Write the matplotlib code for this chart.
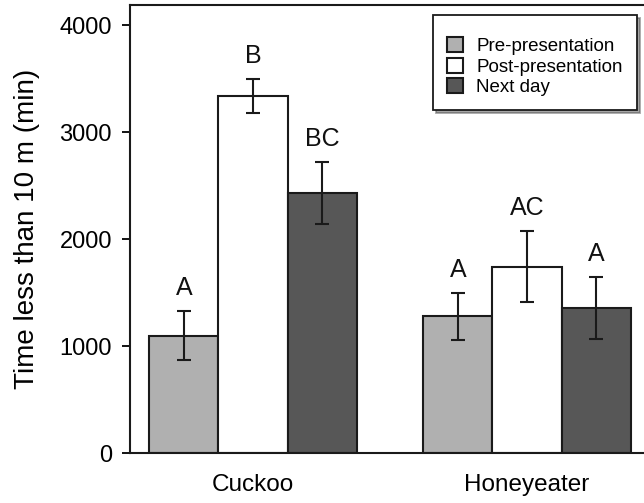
import matplotlib
matplotlib.use("Agg")
import matplotlib.pyplot as plt
import numpy as np

plt.rcParams['font.family'] = ['Liberation Sans', 'DejaVu Sans']

groups = ["Cuckoo", "Honeyeater"]
series = ["Pre-presentation", "Post-presentation", "Next day"]
means = {
    "Pre-presentation": [1100, 1280],
    "Post-presentation": [3340, 1745],
    "Next day": [2430, 1355],
}
errors = {
    "Pre-presentation": [230, 220],
    "Post-presentation": [155, 330],
    "Next day": [290, 290],
}
letters = {
    "Pre-presentation": ["A", "A"],
    "Post-presentation": ["B", "AC"],
    "Next day": ["BC", "A"],
}
colors = {"Pre-presentation": "#b0b0b0", "Post-presentation": "#ffffff", "Next day": "#575757"}
yticks = [0, 1000, 2000, 3000, 4000]

fig = plt.figure(figsize=(6.44, 5.03), dpi=100)
ax = fig.add_axes([130/644, 49.7/503, 1 - 130/644, (453.3 - 5)/503])

x = np.arange(len(groups))
w = 0.252
for i, s in enumerate(series):
    xs = x + (i - 1) * w
    ax.bar(xs, means[s], w, color=colors[s], edgecolor="#1a1a1a", linewidth=1.5,
           label=s, zorder=2)
    ax.errorbar(xs, means[s], yerr=errors[s], fmt="none", ecolor="#1a1a1a",
                elinewidth=1.5, capsize=5, capthick=1.5, zorder=3)
    for xi, m, e, t in zip(xs, means[s], errors[s], letters[s]):
        ax.annotate(t, (xi, m + e), xytext=(0, 16.5), textcoords="offset points",
                    ha="center", va="center", fontsize=18, color="#111111")

ax.set_xlim(-0.449, (644 - 253) / 274)
ax.set_ylim(0, 4190)
ax.set_yticks(yticks)
ax.set_yticklabels([str(v) for v in yticks], fontsize=17)
ax.set_xticks(x)
ax.set_xticklabels(groups, fontsize=17.5)
ax.tick_params(axis="x", length=0, pad=15)
ax.tick_params(axis="y", length=6, width=1.3, pad=7, direction="out")
ax.set_ylabel("Time less than 10 m (min)", fontsize=20, labelpad=14)
for sp in ["left", "bottom", "top"]:
    ax.spines[sp].set_linewidth(1.5)
    ax.spines[sp].set_color("#1a1a1a")
ax.spines["right"].set_visible(False)

leg = ax.legend(loc="upper right", bbox_to_anchor=((637 - 130) / 514, (453.3 - 15) / 448.3),
                fontsize=13.5, handlelength=0.85, handleheight=0.85, handletextpad=0.7,
                labelspacing=0.15, borderpad=0.75, frameon=True, fancybox=False,
                shadow={'color': '0.3'}, title=" ", title_fontsize=4, borderaxespad=0)
leg.get_frame().set_edgecolor("#1a1a1a")
leg.get_frame().set_linewidth(1.3)

fig.savefig("out.png", dpi=100)
